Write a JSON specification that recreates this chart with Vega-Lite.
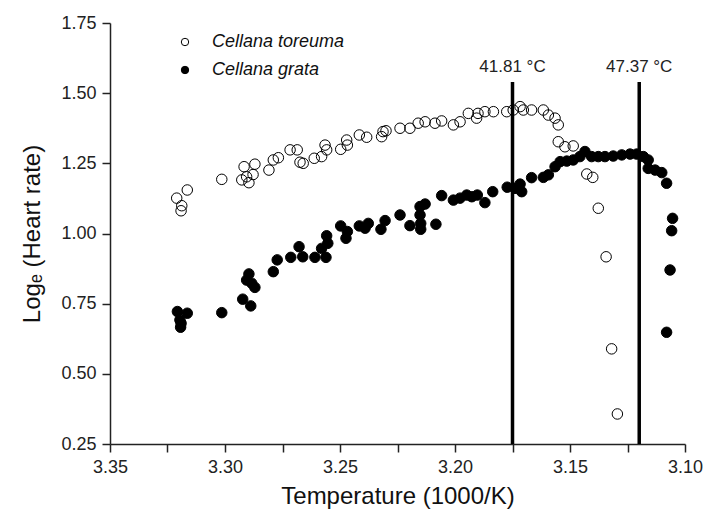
{
  "$schema": "https://vega.github.io/schema/vega-lite/v6.json",
  "width": 575,
  "height": 421,
  "autosize": "none",
  "padding": {"left": 110, "top": 23, "right": 20, "bottom": 74},
  "background": "white",
  "config": {
    "view": {"stroke": null},
    "font": "Liberation Sans",
    "axis": {
      "domainColor": "#222",
      "domainWidth": 1.5,
      "tickColor": "#222",
      "tickWidth": 1.5,
      "tickSize": 8,
      "grid": false,
      "labelFont": "Liberation Sans",
      "labelFontSize": 18,
      "labelColor": "#222",
      "titleFont": "Liberation Sans",
      "titleFontSize": 24,
      "titleFontWeight": "normal",
      "titleColor": "#111",
      "labelOverlap": false,
      "labelFlush": false
    }
  },
  "datasets": {
    "points": [
      {"species": "Cellana toreuma", "invT": 3.3210, "lnHR": 1.126},
      {"species": "Cellana toreuma", "invT": 3.3188, "lnHR": 1.099},
      {"species": "Cellana toreuma", "invT": 3.3191, "lnHR": 1.081},
      {"species": "Cellana toreuma", "invT": 3.3164, "lnHR": 1.155},
      {"species": "Cellana toreuma", "invT": 3.3014, "lnHR": 1.193},
      {"species": "Cellana toreuma", "invT": 3.2917, "lnHR": 1.238},
      {"species": "Cellana toreuma", "invT": 3.2870, "lnHR": 1.247},
      {"species": "Cellana toreuma", "invT": 3.2906, "lnHR": 1.202},
      {"species": "Cellana toreuma", "invT": 3.2927, "lnHR": 1.191},
      {"species": "Cellana toreuma", "invT": 3.2896, "lnHR": 1.181},
      {"species": "Cellana toreuma", "invT": 3.2878, "lnHR": 1.210},
      {"species": "Cellana toreuma", "invT": 3.2809, "lnHR": 1.226},
      {"species": "Cellana toreuma", "invT": 3.2790, "lnHR": 1.262},
      {"species": "Cellana toreuma", "invT": 3.2768, "lnHR": 1.270},
      {"species": "Cellana toreuma", "invT": 3.2717, "lnHR": 1.298},
      {"species": "Cellana toreuma", "invT": 3.2686, "lnHR": 1.298},
      {"species": "Cellana toreuma", "invT": 3.2674, "lnHR": 1.254},
      {"species": "Cellana toreuma", "invT": 3.2660, "lnHR": 1.250},
      {"species": "Cellana toreuma", "invT": 3.2612, "lnHR": 1.268},
      {"species": "Cellana toreuma", "invT": 3.2580, "lnHR": 1.274},
      {"species": "Cellana toreuma", "invT": 3.2558, "lnHR": 1.298},
      {"species": "Cellana toreuma", "invT": 3.2565, "lnHR": 1.315},
      {"species": "Cellana toreuma", "invT": 3.2497, "lnHR": 1.300},
      {"species": "Cellana toreuma", "invT": 3.2468, "lnHR": 1.315},
      {"species": "Cellana toreuma", "invT": 3.2471, "lnHR": 1.333},
      {"species": "Cellana toreuma", "invT": 3.2416, "lnHR": 1.351},
      {"species": "Cellana toreuma", "invT": 3.2384, "lnHR": 1.343},
      {"species": "Cellana toreuma", "invT": 3.2319, "lnHR": 1.345},
      {"species": "Cellana toreuma", "invT": 3.2300, "lnHR": 1.366},
      {"species": "Cellana toreuma", "invT": 3.2313, "lnHR": 1.363},
      {"species": "Cellana toreuma", "invT": 3.2239, "lnHR": 1.375},
      {"species": "Cellana toreuma", "invT": 3.2196, "lnHR": 1.375},
      {"species": "Cellana toreuma", "invT": 3.2160, "lnHR": 1.393},
      {"species": "Cellana toreuma", "invT": 3.2130, "lnHR": 1.398},
      {"species": "Cellana toreuma", "invT": 3.2087, "lnHR": 1.393},
      {"species": "Cellana toreuma", "invT": 3.2058, "lnHR": 1.401},
      {"species": "Cellana toreuma", "invT": 3.2007, "lnHR": 1.387},
      {"species": "Cellana toreuma", "invT": 3.1978, "lnHR": 1.398},
      {"species": "Cellana toreuma", "invT": 3.1942, "lnHR": 1.428},
      {"species": "Cellana toreuma", "invT": 3.1906, "lnHR": 1.411},
      {"species": "Cellana toreuma", "invT": 3.1900, "lnHR": 1.428},
      {"species": "Cellana toreuma", "invT": 3.1870, "lnHR": 1.434},
      {"species": "Cellana toreuma", "invT": 3.1833, "lnHR": 1.434},
      {"species": "Cellana toreuma", "invT": 3.1775, "lnHR": 1.434},
      {"species": "Cellana toreuma", "invT": 3.1747, "lnHR": 1.440},
      {"species": "Cellana toreuma", "invT": 3.1717, "lnHR": 1.452},
      {"species": "Cellana toreuma", "invT": 3.1703, "lnHR": 1.440},
      {"species": "Cellana toreuma", "invT": 3.1667, "lnHR": 1.440},
      {"species": "Cellana toreuma", "invT": 3.1616, "lnHR": 1.440},
      {"species": "Cellana toreuma", "invT": 3.1594, "lnHR": 1.422},
      {"species": "Cellana toreuma", "invT": 3.1565, "lnHR": 1.411},
      {"species": "Cellana toreuma", "invT": 3.1551, "lnHR": 1.387},
      {"species": "Cellana toreuma", "invT": 3.1551, "lnHR": 1.327},
      {"species": "Cellana toreuma", "invT": 3.1522, "lnHR": 1.309},
      {"species": "Cellana toreuma", "invT": 3.1486, "lnHR": 1.312},
      {"species": "Cellana toreuma", "invT": 3.1427, "lnHR": 1.212},
      {"species": "Cellana toreuma", "invT": 3.1401, "lnHR": 1.200},
      {"species": "Cellana toreuma", "invT": 3.1377, "lnHR": 1.090},
      {"species": "Cellana toreuma", "invT": 3.1343, "lnHR": 0.917},
      {"species": "Cellana toreuma", "invT": 3.1319, "lnHR": 0.589},
      {"species": "Cellana toreuma", "invT": 3.1294, "lnHR": 0.357},
      {"species": "Cellana grata", "invT": 3.3207, "lnHR": 0.722},
      {"species": "Cellana grata", "invT": 3.3164, "lnHR": 0.716},
      {"species": "Cellana grata", "invT": 3.3196, "lnHR": 0.692},
      {"species": "Cellana grata", "invT": 3.3193, "lnHR": 0.666},
      {"species": "Cellana grata", "invT": 3.3191, "lnHR": 0.680},
      {"species": "Cellana grata", "invT": 3.3014, "lnHR": 0.718},
      {"species": "Cellana grata", "invT": 3.2923, "lnHR": 0.766},
      {"species": "Cellana grata", "invT": 3.2888, "lnHR": 0.742},
      {"species": "Cellana grata", "invT": 3.2896, "lnHR": 0.856},
      {"species": "Cellana grata", "invT": 3.2906, "lnHR": 0.834},
      {"species": "Cellana grata", "invT": 3.2884, "lnHR": 0.823},
      {"species": "Cellana grata", "invT": 3.2870, "lnHR": 0.808},
      {"species": "Cellana grata", "invT": 3.2790, "lnHR": 0.864},
      {"species": "Cellana grata", "invT": 3.2773, "lnHR": 0.906},
      {"species": "Cellana grata", "invT": 3.2714, "lnHR": 0.915},
      {"species": "Cellana grata", "invT": 3.2678, "lnHR": 0.953},
      {"species": "Cellana grata", "invT": 3.2662, "lnHR": 0.917},
      {"species": "Cellana grata", "invT": 3.2609, "lnHR": 0.915},
      {"species": "Cellana grata", "invT": 3.2580, "lnHR": 0.947},
      {"species": "Cellana grata", "invT": 3.2561, "lnHR": 0.915},
      {"species": "Cellana grata", "invT": 3.2558, "lnHR": 0.992},
      {"species": "Cellana grata", "invT": 3.2553, "lnHR": 0.965},
      {"species": "Cellana grata", "invT": 3.2497, "lnHR": 1.027},
      {"species": "Cellana grata", "invT": 3.2474, "lnHR": 0.983},
      {"species": "Cellana grata", "invT": 3.2468, "lnHR": 1.007},
      {"species": "Cellana grata", "invT": 3.2416, "lnHR": 1.027},
      {"species": "Cellana grata", "invT": 3.2391, "lnHR": 1.019},
      {"species": "Cellana grata", "invT": 3.2377, "lnHR": 1.036},
      {"species": "Cellana grata", "invT": 3.2322, "lnHR": 1.015},
      {"species": "Cellana grata", "invT": 3.2304, "lnHR": 1.046},
      {"species": "Cellana grata", "invT": 3.2239, "lnHR": 1.066},
      {"species": "Cellana grata", "invT": 3.2196, "lnHR": 1.028},
      {"species": "Cellana grata", "invT": 3.2152, "lnHR": 1.096},
      {"species": "Cellana grata", "invT": 3.2130, "lnHR": 1.105},
      {"species": "Cellana grata", "invT": 3.2152, "lnHR": 1.066},
      {"species": "Cellana grata", "invT": 3.2149, "lnHR": 1.036},
      {"species": "Cellana grata", "invT": 3.2149, "lnHR": 1.015},
      {"species": "Cellana grata", "invT": 3.2083, "lnHR": 1.033},
      {"species": "Cellana grata", "invT": 3.2058, "lnHR": 1.135},
      {"species": "Cellana grata", "invT": 3.2007, "lnHR": 1.119},
      {"species": "Cellana grata", "invT": 3.1978, "lnHR": 1.126},
      {"species": "Cellana grata", "invT": 3.1949, "lnHR": 1.137},
      {"species": "Cellana grata", "invT": 3.1927, "lnHR": 1.131},
      {"species": "Cellana grata", "invT": 3.1903, "lnHR": 1.137},
      {"species": "Cellana grata", "invT": 3.1870, "lnHR": 1.110},
      {"species": "Cellana grata", "invT": 3.1836, "lnHR": 1.149},
      {"species": "Cellana grata", "invT": 3.1773, "lnHR": 1.165},
      {"species": "Cellana grata", "invT": 3.1739, "lnHR": 1.161},
      {"species": "Cellana grata", "invT": 3.1717, "lnHR": 1.176},
      {"species": "Cellana grata", "invT": 3.1710, "lnHR": 1.149},
      {"species": "Cellana grata", "invT": 3.1667, "lnHR": 1.199},
      {"species": "Cellana grata", "invT": 3.1616, "lnHR": 1.200},
      {"species": "Cellana grata", "invT": 3.1594, "lnHR": 1.209},
      {"species": "Cellana grata", "invT": 3.1565, "lnHR": 1.238},
      {"species": "Cellana grata", "invT": 3.1543, "lnHR": 1.256},
      {"species": "Cellana grata", "invT": 3.1514, "lnHR": 1.258},
      {"species": "Cellana grata", "invT": 3.1486, "lnHR": 1.262},
      {"species": "Cellana grata", "invT": 3.1457, "lnHR": 1.274},
      {"species": "Cellana grata", "invT": 3.1435, "lnHR": 1.292},
      {"species": "Cellana grata", "invT": 3.1406, "lnHR": 1.274},
      {"species": "Cellana grata", "invT": 3.1377, "lnHR": 1.274},
      {"species": "Cellana grata", "invT": 3.1348, "lnHR": 1.274},
      {"species": "Cellana grata", "invT": 3.1312, "lnHR": 1.276},
      {"species": "Cellana grata", "invT": 3.1275, "lnHR": 1.280},
      {"species": "Cellana grata", "invT": 3.1239, "lnHR": 1.283},
      {"species": "Cellana grata", "invT": 3.1210, "lnHR": 1.283},
      {"species": "Cellana grata", "invT": 3.1181, "lnHR": 1.274},
      {"species": "Cellana grata", "invT": 3.1160, "lnHR": 1.262},
      {"species": "Cellana grata", "invT": 3.1160, "lnHR": 1.232},
      {"species": "Cellana grata", "invT": 3.1130, "lnHR": 1.226},
      {"species": "Cellana grata", "invT": 3.1101, "lnHR": 1.217},
      {"species": "Cellana grata", "invT": 3.1080, "lnHR": 1.179},
      {"species": "Cellana grata", "invT": 3.1054, "lnHR": 1.054},
      {"species": "Cellana grata", "invT": 3.1058, "lnHR": 1.010},
      {"species": "Cellana grata", "invT": 3.1065, "lnHR": 0.870},
      {"species": "Cellana grata", "invT": 3.1080, "lnHR": 0.648}
    ],
    "limits": [
      {"invT": 3.1750, "label": "41.81 °C"},
      {"invT": 3.1199, "label": "47.37 °C"}
    ]
  },
  "layer": [
    {
      "data": {"name": "limits"},
      "mark": {"type": "rule", "color": "#000", "strokeWidth": 3.5},
      "encoding": {
        "x": {"field": "invT", "type": "quantitative"},
        "y": {"datum": 0.25},
        "y2": {"datum": 1.54}
      }
    },
    {
      "data": {"name": "limits"},
      "mark": {"type": "text", "fontSize": 17, "color": "#222", "align": "center", "baseline": "bottom", "font": "Liberation Sans"},
      "encoding": {
        "x": {"field": "invT", "type": "quantitative"},
        "y": {"datum": 1.56},
        "text": {"field": "label"}
      }
    },
    {
      "data": {"name": "points"},
      "mark": {"type": "circle", "size": 110, "stroke": "#000", "strokeWidth": 1, "opacity": 1},
      "encoding": {
        "x": {
          "field": "invT",
          "type": "quantitative",
          "scale": {"domain": [3.10, 3.35], "reverse": true, "nice": false, "zero": false},
          "axis": {
            "title": "Temperature (1000/K)",
            "values": [3.1, 3.125, 3.15, 3.175, 3.2, 3.225, 3.25, 3.275, 3.3, 3.325, 3.35],
            "labelExpr": "round(datum.value*1000) % 50 == 0 ? format(datum.value, '.2f') : ''",
            "labelPadding": 6,
            "titlePadding": 8
          }
        },
        "y": {
          "field": "lnHR",
          "type": "quantitative",
          "scale": {"domain": [0.25, 1.75], "nice": false, "zero": false},
          "axis": {
            "title": "Logₑ (Heart rate)",
            "values": [0.25, 0.375, 0.5, 0.625, 0.75, 0.875, 1.0, 1.125, 1.25, 1.375, 1.5, 1.625, 1.75],
            "labelExpr": "round(datum.value*1000) % 250 == 0 ? format(datum.value, '.2f') : ''",
            "labelPadding": 6,
            "titlePadding": 16
          }
        },
        "fill": {
          "field": "species",
          "type": "nominal",
          "scale": {"domain": ["Cellana toreuma", "Cellana grata"], "range": ["rgba(255,255,255,0)", "#000"]},
          "legend": {
            "title": null,
            "orient": "none",
            "legendX": 66,
            "legendY": 10,
            "symbolType": "circle",
            "symbolSize": 55,
            "symbolStrokeColor": "#000",
            "symbolStrokeWidth": 1,
            "labelFont": "Liberation Sans",
            "labelFontSize": 18,
            "labelFontStyle": "italic",
            "labelColor": "#111",
            "labelOffset": 18,
            "labelLimit": 300,
            "rowPadding": 10
          }
        }
      }
    }
  ]
}
